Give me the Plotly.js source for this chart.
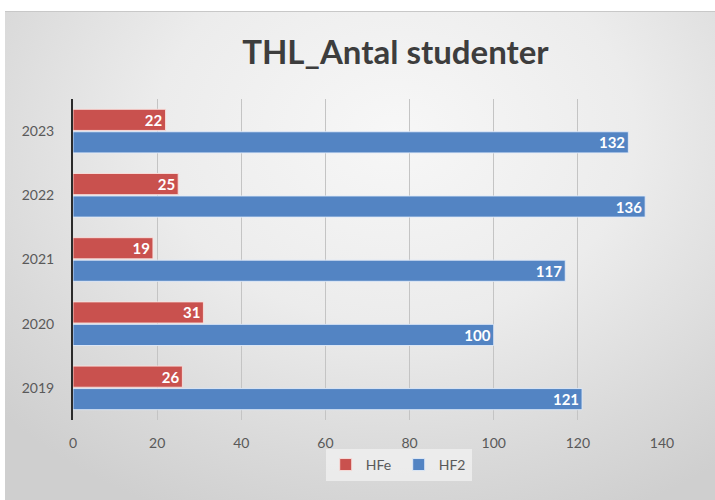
<!DOCTYPE html>
<html>
<head>
<meta charset="utf-8">
<script src="https://cdn.plot.ly/plotly-3.0.1.min.js"></script>
<style>
  html, body { margin: 0; padding: 0; background: #ffffff; }
  #bg { position: absolute; left: 5px; top: 11px; width: 710px; height: 489px;
        background: radial-gradient(ellipse 75% 85% at 55% 25%, #f7f7f7 0%, #ececec 45%, #d9d9d9 80%, #cfcfcf 100%);
        border-top: 1px solid #c8c8c8; }
  #chart { position: absolute; left: 0; top: 0; width: 715px; height: 500px; }
</style>
</head>
<body>
<div id="bg"></div>
<div id="chart"></div>
<script>
const years = ['2019', '2020', '2021', '2022', '2023'];
const hfe = [26, 31, 19, 25, 22];
const hf2 = [121, 100, 117, 136, 132];
const xTicks = [0, 20, 40, 60, 80, 100, 120, 140];

const labelFont = { family: 'Lato, "Liberation Sans", sans-serif', size: 15, color: '#ffffff', weight: 'bold' };

const traces = [
  {
    type: 'bar', orientation: 'h', name: 'HF2',
    y: years, x: hf2,
    marker: { color: '#5384c3', line: { color: 'rgba(225,235,250,0.9)', width: 1 } },
    texttemplate: '<b>%{x}</b>', textposition: 'inside', insidetextanchor: 'end',
    textangle: 0, constraintext: 'none',
    textfont: labelFont, hoverinfo: 'x+name'
  },
  {
    type: 'bar', orientation: 'h', name: 'HFe',
    y: years, x: hfe,
    marker: { color: '#c9514e', line: { color: 'rgba(250,225,222,0.9)', width: 1 } },
    texttemplate: '<b>%{x}</b>', textposition: 'inside', insidetextanchor: 'end',
    textangle: 0, constraintext: 'none',
    textfont: labelFont, hoverinfo: 'x+name'
  }
];

const layout = {
  width: 715, height: 500,
  paper_bgcolor: 'rgba(0,0,0,0)', plot_bgcolor: 'rgba(0,0,0,0)',
  margin: { l: 73, r: 53, t: 99, b: 80 },
  barmode: 'group', bargap: 0.3, bargroupgap: 0.06,
  title: {
    text: '<b>THL_Antal studenter</b>',
    x: 0.553, xanchor: 'center', y: 0.895, yanchor: 'middle',
    font: { family: 'Lato, "Liberation Sans", sans-serif', size: 33, color: '#3d3d3d' }
  },
  xaxis: {
    range: [0, 140], tickvals: xTicks, ticktext: xTicks.map(String),
    showgrid: true, gridcolor: '#c4c4c4', gridwidth: 1,
    zeroline: false, showline: false,
    ticks: 'outside', ticklen: 10, tickcolor: 'rgba(0,0,0,0)',
    tickfont: { family: 'Lato, "Liberation Sans", sans-serif', size: 14, color: '#595959' },
    fixedrange: true
  },
  yaxis: {
    type: 'category', categoryorder: 'array', categoryarray: years,
    showgrid: false, zeroline: false,
    showline: true, linecolor: '#2b2b2b', linewidth: 2,
    ticks: 'outside', ticklen: 14, tickcolor: 'rgba(0,0,0,0)',
    tickfont: { family: 'Lato, "Liberation Sans", sans-serif', size: 14, color: '#595959' },
    fixedrange: true
  },
  showlegend: true,
  legend: {
    orientation: 'h', traceorder: 'reversed',
    x: 0.553, xanchor: 'center', y: -0.14, yanchor: 'middle',
    bgcolor: 'rgba(238,238,238,0.85)',
    font: { family: 'Lato, "Liberation Sans", sans-serif', size: 14, color: '#595959' },
    itemwidth: 30, entrywidth: 28, entrywidthmode: 'pixels',
    tracegroupgap: 0
  }
};

Plotly.newPlot('chart', traces, layout, { displayModeBar: false, staticPlot: true });
</script>
</body>
</html>
